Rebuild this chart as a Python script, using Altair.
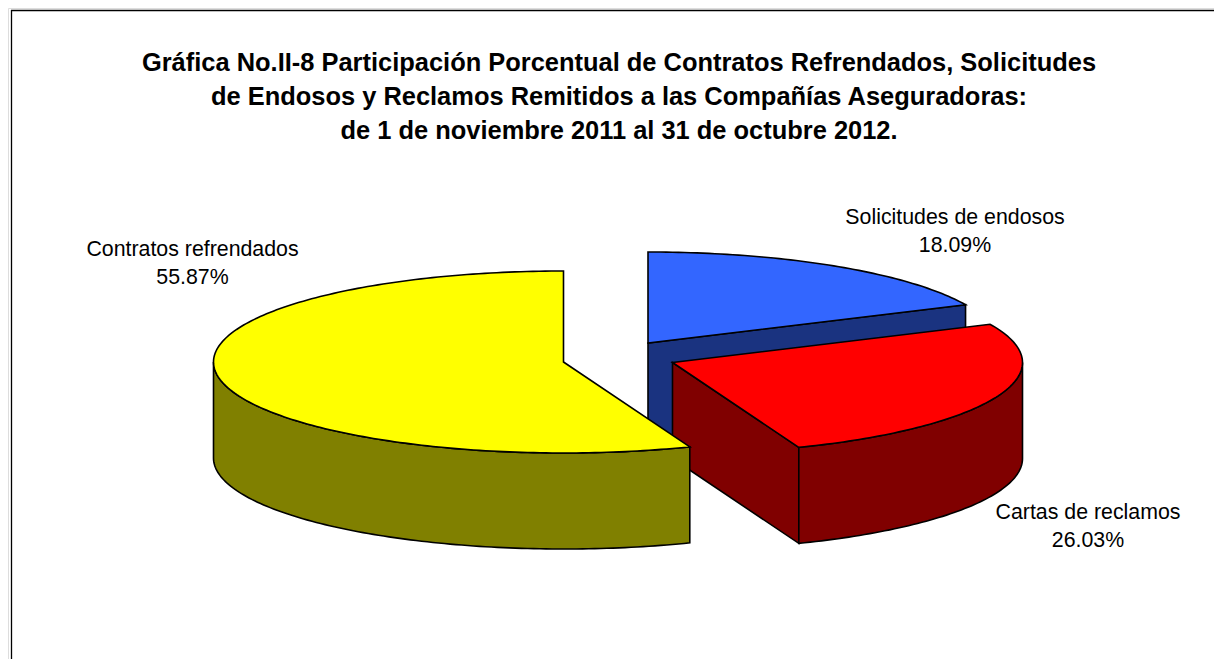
import math
import altair as alt

# ---- values
categories = ["Solicitudes de endosos", "Cartas de reclamos", "Contratos refrendados"]
shares = [18.09, 26.03, 55.87]
title_lines = [
    "Gráfica No.II-8 Participación Porcentual de Contratos Refrendados, Solicitudes",
    "de Endosos y Reclamos Remitidos a las Compañías Aseguradoras:",
    "de 1 de noviembre 2011 al 31 de octubre 2012.",
]

# ---- styling / layout (page pixels)
top_colors = ["#3366FF", "#FF0000", "#FFFF00"]
side_colors = ["#1A3380", "#800000", "#808000"]
centers = [(648, 343), (672.5, 362.5), (563.5, 362)]
label_anchors = [(955, 223.5), (1088, 519), (192.5, 255.5)]
RX, RY, DEPTH = 350, 91, 96
MARGIN = 8


def pt(c, a, drop=0.0):
    r = math.radians(a)
    return [c[0] + RX * math.sin(r) - MARGIN, c[1] - RY * math.cos(r) + drop - MARGIN]


def arc(c, a0, a1, drop=0.0, step=1.0):
    n = max(2, int(abs(a1 - a0) / step) + 1)
    return [pt(c, a0 + (a1 - a0) * i / (n - 1), drop) for i in range(n)]


def feature(ring, fill):
    ring = ring + [ring[0]]
    return {"type": "Feature", "properties": {"fill": fill},
            "geometry": {"type": "Polygon", "coordinates": [ring]}}


features = []
total = sum(shares)
start = 0.0
for share, c, top, side in zip(shares, centers, top_colors, side_colors):
    end = start + 360 * share / total
    hub = [c[0] - MARGIN, c[1] - MARGIN]
    if math.sin(math.radians(end)) > 0.01:
        features.append(feature([hub, pt(c, end), pt(c, end, DEPTH),
                                 [hub[0], hub[1] + DEPTH]], side))
    lo, hi = max(start, 90), min(end, 270)
    if lo < hi:
        features.append(feature(arc(c, lo, hi) + arc(c, hi, lo, DEPTH), side))
    features.append(feature([hub] + arc(c, start, end), top))
    start = end

pie = alt.Chart(alt.Data(values=features)).mark_geoshape(
    stroke="black", strokeWidth=1.6, strokeJoin="miter"
).encode(
    fill=alt.Fill("properties.fill:N", scale=None, sort=None)
).project(type="identity", scale=1, translate=[0, 0])

rows = []
for name, share, (x, y) in zip(categories, shares, label_anchors):
    rows.append({"t": name, "x": x - MARGIN, "y": y - MARGIN})
    rows.append({"t": f"{share:.2f}%", "x": x - MARGIN, "y": y + 28 - MARGIN})

labels = alt.Chart(alt.Data(values=rows)).mark_text(
    font="Liberation Sans", fontSize=21.33, align="center", baseline="alphabetic", color="black"
).encode(
    x=alt.X("x:Q", scale=None), y=alt.Y("y:Q", scale=None), text="t:N"
)

top_line = alt.Chart(alt.Data(values=[{"a": 0}])).mark_rule(color="black", strokeWidth=1.3).encode(
    x=alt.value(3), x2=alt.value(1206), y=alt.value(2.5)
)
left_line = alt.Chart(alt.Data(values=[{"a": 0}])).mark_rule(color="black", strokeWidth=1.3).encode(
    x=alt.value(3.5), y=alt.value(2), y2=alt.value(651)
)

chart = alt.layer(top_line, left_line, pie, labels).properties(
    width=1206, height=651, padding=0, autosize="none",
    title=alt.TitleParams(
        text=title_lines, font="Liberation Sans", fontSize=25.45, fontWeight="bold",
        color="black", anchor="middle", lineHeight=34, baseline="alphabetic",
        dx=8, dy=156, offset=0,
    ),
).configure_view(stroke=None).configure(background="white")

chart.save("out.html", embed_options={"renderer": "svg", "actions": False})
